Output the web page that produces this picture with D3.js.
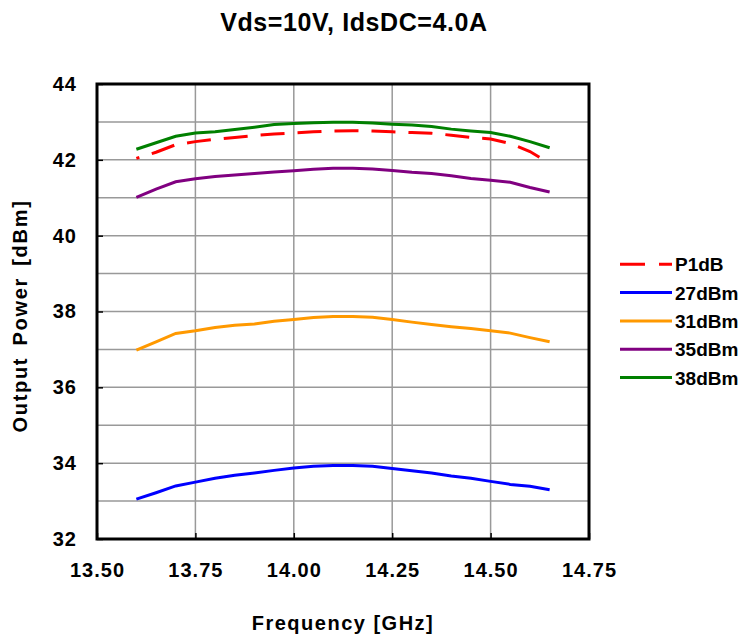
<!DOCTYPE html>
<html>
<head>
<meta charset="utf-8">
<script src="https://cdn.jsdelivr.net/npm/d3@7"></script>
<style>
  body { margin: 0; background: #fff; }
  svg text { font-family: Arial, "Liberation Sans", sans-serif; font-weight: bold; fill: #000; }
</style>
</head>
<body>
<svg id="chart" width="741" height="636"></svg>
<script>
// frequency points (GHz)
const freqs = [13.60, 13.65, 13.70, 13.75, 13.80, 13.85, 13.90, 13.95, 14.00, 14.05, 14.10,
               14.15, 14.20, 14.25, 14.30, 14.35, 14.40, 14.45, 14.50, 14.55, 14.60, 14.65];

// output power (dBm) per input drive level
const p1dB = [42.04, 42.20, 42.40, 42.48, 42.54, 42.59, 42.64, 42.68, 42.71, 42.74, 42.76,
              42.77, 42.76, 42.74, 42.72, 42.70, 42.65, 42.59, 42.55, 42.43, 42.22, 41.90];
const pin27 = [33.05, 33.22, 33.40, 33.50, 33.60, 33.68, 33.74, 33.81, 33.87, 33.92, 33.94,
               33.94, 33.92, 33.86, 33.80, 33.74, 33.66, 33.60, 33.52, 33.44, 33.39, 33.30];
const pin31 = [36.98, 37.20, 37.42, 37.49, 37.58, 37.64, 37.67, 37.74, 37.79, 37.84, 37.87,
               37.87, 37.85, 37.79, 37.72, 37.66, 37.60, 37.55, 37.49, 37.43, 37.31, 37.20];
const pin35 = [41.01, 41.23, 41.42, 41.50, 41.56, 41.60, 41.64, 41.68, 41.71, 41.75, 41.78,
               41.78, 41.76, 41.72, 41.67, 41.64, 41.58, 41.51, 41.46, 41.41, 41.27, 41.15];
const pin38 = [42.28, 42.45, 42.62, 42.71, 42.74, 42.80, 42.86, 42.93, 42.96, 42.98, 42.99,
               42.99, 42.97, 42.94, 42.92, 42.88, 42.81, 42.76, 42.72, 42.62, 42.48, 42.32];

const seriesNames = ['P1dB', '27dBm', '31dBm', '35dBm', '38dBm'];
const seriesValues = [p1dB, pin27, pin31, pin35, pin38];
const seriesColors = ['#ff0000', '#0000ff', '#ff9900', '#800080', '#008000'];

const xTicks = [13.50, 13.75, 14.00, 14.25, 14.50, 14.75];
const yTicks = [32, 34, 36, 38, 40, 42, 44];
const yGrid = d3.range(32, 45, 1);

const svg = d3.select('#chart');

const x = d3.scaleLinear().domain([13.5, 14.75]).range([97, 589]);
const y = d3.scaleLinear().domain([32, 44]).range([539, 84]);

// gridlines
svg.append('g')
  .selectAll('line')
  .data(yGrid)
  .join('line')
  .attr('x1', x(13.5)).attr('x2', x(14.75))
  .attr('y1', d => y(d)).attr('y2', d => y(d))
  .attr('stroke', '#999').attr('stroke-width', 1.5);

svg.append('g')
  .selectAll('line')
  .data(xTicks)
  .join('line')
  .attr('x1', d => x(d)).attr('x2', d => x(d))
  .attr('y1', y(32)).attr('y2', y(44))
  .attr('stroke', '#999').attr('stroke-width', 1.5);

// axes with inward ticks
const xAxis = svg.append('g')
  .attr('transform', `translate(0,${y(32)})`)
  .call(d3.axisBottom(x).tickValues(xTicks).tickSizeInner(-6).tickSizeOuter(0).tickPadding(24)
    .tickFormat(d3.format('.2f')));
const yAxis = svg.append('g')
  .attr('transform', `translate(${x(13.5)},0)`)
  .call(d3.axisLeft(y).tickValues(yTicks).tickSizeInner(-6).tickSizeOuter(0).tickPadding(20));

[xAxis, yAxis].forEach(a => {
  a.select('.domain').remove();
  a.selectAll('.tick line').attr('stroke', '#000').attr('stroke-width', 1.5);
  a.selectAll('.tick text')
    .attr('font-family', 'Arial, "Liberation Sans", sans-serif')
    .attr('font-weight', 'bold')
    .attr('font-size', 20)
    .attr('letter-spacing', 1)
    .attr('fill', '#000');
});

// data lines
const line = d3.line()
  .x((d, i) => x(freqs[i]))
  .y(d => y(d));

const paths = svg.append('g')
  .selectAll('path')
  .data(seriesValues.slice().reverse())
  .join('path')
  .attr('d', d => line(d))
  .attr('fill', 'none')
  .attr('stroke', d => seriesColors[seriesValues.indexOf(d)])
  .attr('stroke-width', 3)
  .attr('stroke-dasharray', d => d === p1dB ? '24,13' : null);

// end the dashed P1dB curve on a gap, as in the original
paths.filter(d => d === p1dB).each(function() {
  const len = this.getTotalLength();
  this.setAttribute('stroke-dashoffset', 36 - (len % 37));
});

// frame
svg.append('rect')
  .attr('x', x(13.5)).attr('y', y(44))
  .attr('width', x(14.75) - x(13.5)).attr('height', y(32) - y(44))
  .attr('fill', 'none').attr('stroke', '#000').attr('stroke-width', 3);

// title
svg.append('text')
  .attr('x', 354).attr('y', 31)
  .attr('text-anchor', 'middle')
  .attr('font-size', 25)
  .attr('letter-spacing', 0.6)
  .text('Vds=10V, IdsDC=4.0A');

// axis titles
svg.append('text')
  .attr('x', 343).attr('y', 630)
  .attr('text-anchor', 'middle')
  .attr('font-size', 20)
  .attr('letter-spacing', 1.5)
  .text('Frequency [GHz]');

svg.append('text')
  .attr('transform', 'translate(27,316) rotate(-90)')
  .attr('text-anchor', 'middle')
  .attr('font-size', 20)
  .attr('letter-spacing', 1.7)
  .attr('word-spacing', 4)
  .text('Output Power [dBm]');

// legend
const legend = svg.append('g')
  .selectAll('g')
  .data(seriesNames)
  .join('g')
  .attr('transform', (d, i) => `translate(620,${264.3 + i * 28.3})`);

legend.append('line')
  .attr('x1', 0).attr('x2', 52)
  .attr('stroke', (d, i) => seriesColors[i])
  .attr('stroke-width', 3)
  .attr('stroke-dasharray', (d, i) => i === 0 ? '25,14' : null);

legend.append('text')
  .attr('x', 55).attr('y', 7)
  .attr('font-size', 19)
  .text(d => d);
</script>
</body>
</html>
